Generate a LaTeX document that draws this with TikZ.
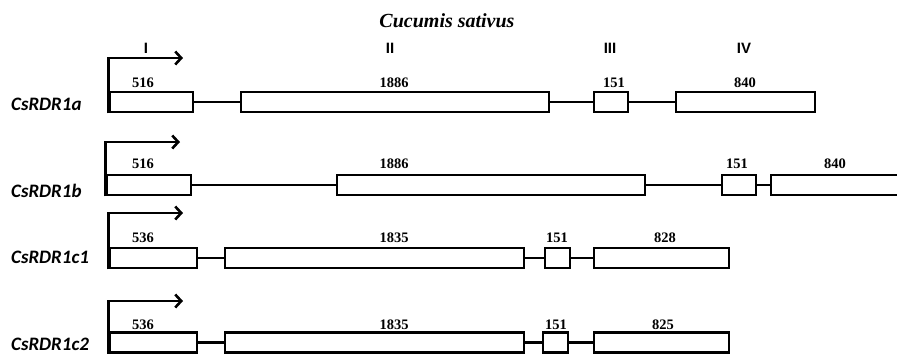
\documentclass[tikz,border=0pt]{standalone}
\usepackage{fontspec}
\setmainfont{Liberation Serif}
\newfontfamily\genefont{Carlito}
\newfontfamily\romfont{Liberation Sans}
\usetikzlibrary{arrows.meta}
\begin{document}
\begin{tikzpicture}[x=1pt, y=-1pt,
  exon/.style={draw, line width=2.6pt, rectangle, inner sep=0pt, minimum height=20pt},
  intron/.style={line width=2.2pt},
  tss/.style={line width=2.6pt, -{Straight Barb[length=6pt, width=13pt, line width=2.6pt]}},
  size/.style={font=\bfseries\fontsize{14.5}{14.5}\selectfont, inner sep=0pt, anchor=base},
  roman/.style={font=\romfont\bfseries\fontsize{15}{15}\selectfont, inner sep=0pt, anchor=base},
  gene/.style={font=\genefont\bfseries\itshape\fontsize{19}{19}\selectfont, inner sep=0pt, anchor=base west}]
\useasboundingbox (0,0) rectangle (897,354);
\clip (0,0) rectangle (897,354);
\node[font=\bfseries\itshape\fontsize{20}{20}\selectfont, inner sep=0pt, anchor=base] (title) at (447,27) {Cucumis sativus};
% exon numbers
\node[roman] (r1) at (146,53) {I};
\node[roman] (r2) at (390,53) {II};
\node[roman] (r3) at (610,53) {III};
\node[roman] (r4) at (744,53) {IV};

% CsRDR1a
\node[gene] (ga) at (11,110) {CsRDR1a};
\node[exon, minimum width=83pt] (a1) at (151.5,102) {};
\node[exon, minimum width=308pt] (a2) at (395,102) {};
\node[exon, minimum width=34pt] (a3) at (611,102) {};
\node[exon, minimum width=139pt] (a4) at (745.5,102) {};
\node[size] (sa1) at (143,87) {516};
\node[size] (sa2) at (394,87) {1886};
\node[size] (sa3) at (614,87) {151};
\node[size] (sa4) at (745,87) {840};
\coordinate (ta) at (183,58);
\draw[tss] (a1.south west) |- (ta);
\draw[intron] (a1.east) -- (a2.west);
\draw[intron] (a2.east) -- (a3.west);
\draw[intron] (a3.east) -- (a4.west);

% CsRDR1b
\node[gene] (gb) at (11,197) {CsRDR1b};
\node[exon, minimum width=84pt] (b1) at (149,185) {};
\node[exon, minimum width=308pt] (b2) at (491,185) {};
\node[exon, minimum width=34pt] (b3) at (739,185) {};
\node[exon, minimum width=139pt] (b4) at (840.5,185) {};
\node[size] (sb1) at (143,168) {516};
\node[size] (sb2) at (394,168) {1886};
\node[size] (sb3) at (737,168) {151};
\node[size] (sb4) at (835,168) {840};
\coordinate (tb) at (180,142);
\draw[tss] (b1.south west) |- (tb);
\draw[intron] (b1.east) -- (b2.west);
\draw[intron] (b2.east) -- (b3.west);
\draw[intron] (b3.east) -- (b4.west);

% CsRDR1c1
\node[gene] (gc1) at (11,263) {CsRDR1c1};
\node[exon, minimum width=87pt] (c1) at (153.5,258) {};
\node[exon, minimum width=299pt] (c2) at (374.5,258) {};
\node[exon, minimum width=25pt] (c3) at (557.5,258) {};
\node[exon, minimum width=135pt] (c4) at (661.5,258) {};
\node[size] (sc1) at (143,242) {536};
\node[size] (sc2) at (394,242) {1835};
\node[size] (sc3) at (557,242) {151};
\node[size] (sc4) at (665,242) {828};
\coordinate (tc) at (183,213);
\draw[tss] (c1.south west) |- (tc);
\draw[intron] (c1.east) -- (c2.west);
\draw[intron] (c2.east) -- (c3.west);
\draw[intron] (c3.east) -- (c4.west);

% CsRDR1c2
\node[gene] (gd) at (11,350) {CsRDR1c2};
\node[exon, minimum width=87pt] (d1) at (153.5,342.5) {};
\node[exon, minimum width=299pt] (d2) at (374.5,342.5) {};
\node[exon, minimum width=25pt] (d3) at (555.5,342.5) {};
\node[exon, minimum width=135pt] (d4) at (661.5,342.5) {};
\node[size] (sd1) at (143,329) {536};
\node[size] (sd2) at (394,329) {1835};
\node[size] (sd3) at (556,329) {151};
\node[size] (sd4) at (663,329) {825};
\coordinate (td) at (183,301);
\draw[tss] (d1.south west) |- (td);
\draw[intron] (d1.east) -- (d2.west);
\draw[intron] (d2.east) -- (d3.west);
\draw[intron] (d3.east) -- (d4.west);
\end{tikzpicture}
\end{document}
